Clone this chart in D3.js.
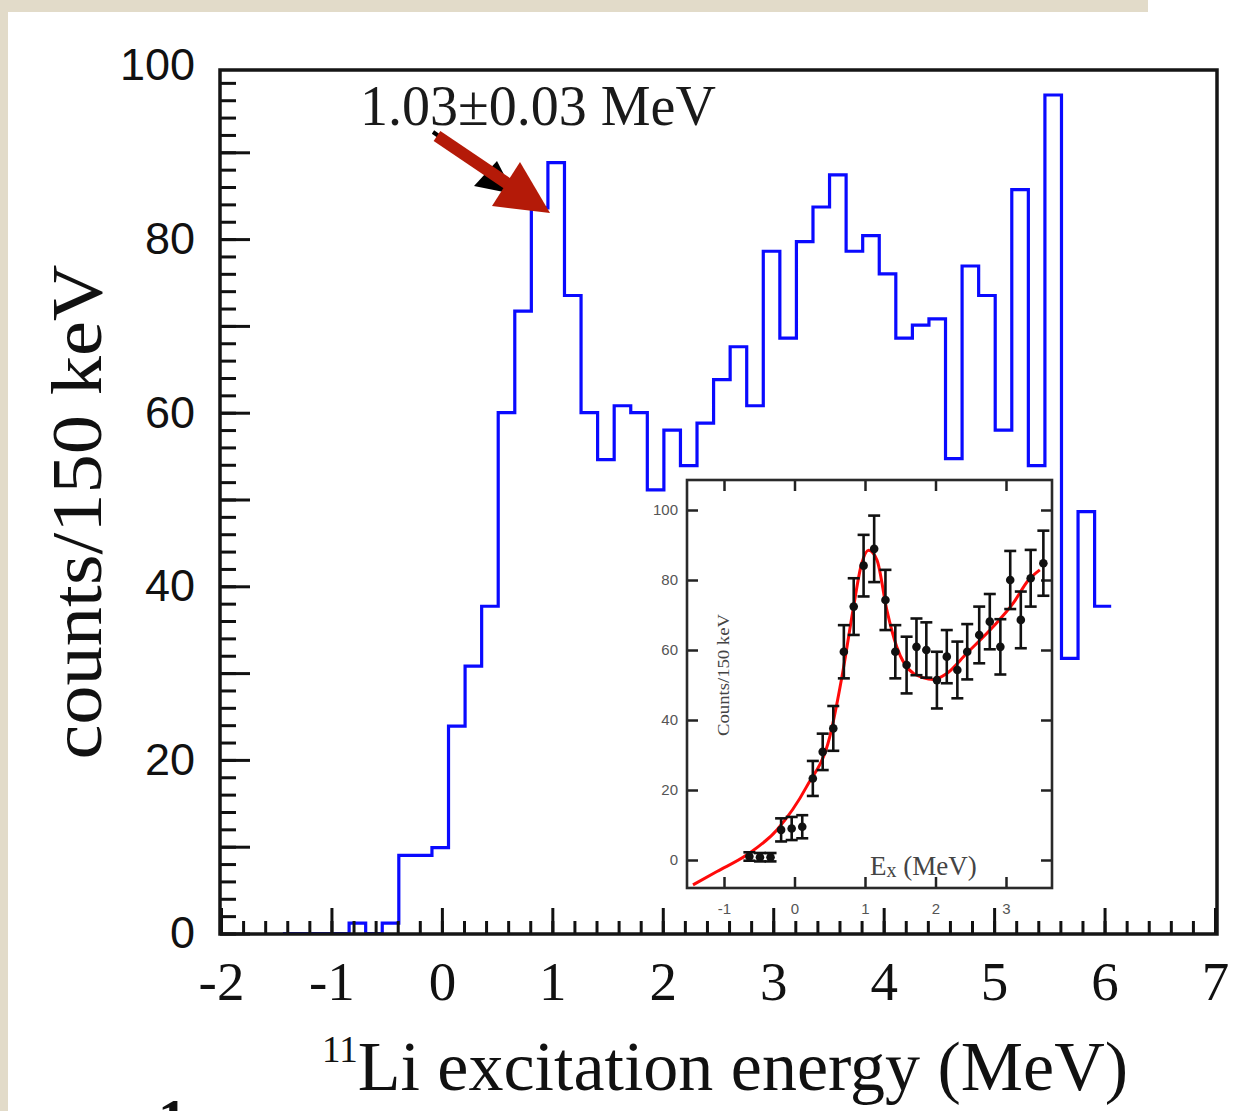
<!DOCTYPE html>
<html>
<head>
<meta charset="utf-8">
<script src="https://cdn.jsdelivr.net/npm/d3@7"></script>
<style>
  html, body { margin: 0; padding: 0; background: #ffffff; }
  svg { display: block; }
</style>
</head>
<body>
<svg id="fig" width="1239" height="1111"></svg>
<script>
// ---- main spectrum: counts per 150 keV bin ----
const binStart = -1.44;      // low edge of the first bin (MeV)
const binWidth = 0.15;       // 150 keV bins
const counts = [
  0, 0, 0, 0, 1.2, 0, 1.2,
  9.0, 9.0, 9.9, 23.9, 30.8, 37.7, 60.0, 71.7, 83.6, 88.8,
  73.5, 60.0, 54.6, 60.8, 60.0, 51.1, 58.0, 53.9, 58.8, 63.8,
  67.6, 60.8, 78.6, 68.6, 79.7, 83.7, 87.4, 78.6, 80.4, 76.0,
  68.6, 70.1, 70.8, 54.7, 76.9, 73.5, 58.0, 85.7, 53.9, 96.6,
  31.7, 48.6, 37.7
];

// main axes
const xMajor = [-2, -1, 0, 1, 2, 3, 4, 5, 6, 7];
const yLabels = [0, 20, 40, 60, 80, 100];
const yMajor = [0, 10, 20, 30, 40, 50, 60, 70, 80, 90];

// ---- inset: fitted spectrum with error bars ----
const insetE   = [-0.64, -0.49, -0.34, -0.19, -0.04, 0.11, 0.26, 0.40, 0.55, 0.70,
                  0.84, 0.98, 1.13, 1.29, 1.43, 1.59, 1.73, 1.87, 2.02, 2.16,
                  2.31, 2.45, 2.62, 2.77, 2.92, 3.06, 3.21, 3.35, 3.53];
const insetVal = [1.0, 0.8, 0.8, 8.6, 9.0, 9.5, 23.3, 30.9, 37.6, 59.5,
                  72.4, 84.1, 88.9, 74.3, 59.5, 55.7, 60.9, 60.0, 51.4, 58.1,
                  54.3, 59.5, 64.3, 68.1, 60.9, 80.0, 68.6, 80.5, 84.8];
const insetErr = [1.2, 1.2, 1.2, 3.3, 3.3, 3.3, 5.0, 5.2, 6.4, 7.6,
                  8.1, 8.8, 9.5, 8.6, 7.6, 8.1, 8.1, 7.9, 8.1, 7.6,
                  8.1, 7.9, 8.1, 7.9, 7.9, 8.3, 8.1, 8.1, 9.3];
const fitE   = [-1.44, -1.10, -0.68, -0.25, 0.17, 0.50, 0.69, 0.83, 0.95, 1.05,
                1.17, 1.31, 1.45, 1.69, 1.97, 2.16, 2.44, 2.82, 3.10, 3.32, 3.48];
const fitVal = [-7.1, -3.3, 1.4, 8.6, 20.9, 35.2, 54.3, 71.4, 84.5, 88.5,
                85.7, 71.4, 60.9, 53.3, 51.6, 53.3, 59.0, 66.7, 73.3, 80.0, 82.9];
const insetXTicks = [-1, 0, 1, 2, 3];
const insetYTicks = [0, 20, 40, 60, 80, 100];

const svg = d3.select("#fig");
const SERIF = "'Liberation Serif', 'Times New Roman', serif";
const SANS = "'Liberation Sans', Arial, sans-serif";
// integer labels with a plain hyphen for negatives
const intLabel = d => (d < 0 ? "-" : "") + Math.abs(d);

// page background: paper strips around the white sheet
svg.append("rect").attr("x", 0).attr("y", 0).attr("width", 1239).attr("height", 1111).attr("fill", "#ffffff");
svg.append("rect").attr("x", 0).attr("y", 0).attr("width", 8).attr("height", 1111).attr("fill", "#e2dbc9");
svg.append("rect").attr("x", 0).attr("y", 0).attr("width", 1148).attr("height", 12).attr("fill", "#e2dbc9");

// ---- main plot ----
const frame = { left: 220, right: 1217, top: 70, bottom: 934 };
const x = d3.scaleLinear().domain([-2, 7]).range([221, 1215]);
const y = d3.scaleLinear().domain([0, 100]).range([933.5, 65.5]);

// histogram outline (step line)
const steps = [];
counts.forEach((c, i) => {
  const lo = binStart + i * binWidth, hi = lo + binWidth;
  steps.push([lo, c], [hi, c]);
});
const stepLine = d3.line().x(d => x(d[0])).y(d => y(d[1]));
svg.append("path")
  .attr("d", stepLine(steps))
  .attr("fill", "none")
  .attr("stroke", "#0a0aff")
  .attr("stroke-width", 3.2)
  .attr("stroke-linejoin", "miter");

// ticks, pointing into the frame
const xMinor = d3.range(-2, 7.0001, 0.2).map(v => +v.toFixed(2));
const yMinor = d3.range(0, 99, 2);
const tickStyle = g => {
  g.select(".domain").remove();
  g.selectAll(".tick line").attr("stroke", "#111").attr("stroke-width", 3);
};
svg.append("g").attr("transform", `translate(0,${frame.bottom})`)
  .call(d3.axisBottom(x).tickValues(xMinor).tickSize(-13).tickFormat(""))
  .call(tickStyle);
svg.append("g").attr("transform", `translate(0,${frame.bottom})`)
  .call(d3.axisBottom(x).tickValues(xMajor).tickSize(-26).tickFormat(""))
  .call(tickStyle);
svg.append("g").attr("transform", `translate(${frame.left},0)`)
  .call(d3.axisLeft(y).tickValues(yMinor).tickSize(-16).tickFormat(""))
  .call(tickStyle);
svg.append("g").attr("transform", `translate(${frame.left},0)`)
  .call(d3.axisLeft(y).tickValues(yMajor).tickSize(-30).tickFormat(""))
  .call(tickStyle);

// tick labels
const xl = svg.append("g").attr("transform", `translate(0,${frame.bottom})`)
  .call(d3.axisBottom(x).tickValues(xMajor).tickSize(0).tickPadding(27).tickFormat(intLabel));
xl.select(".domain").remove();
xl.selectAll("text").attr("font-family", SERIF).attr("font-size", 55).attr("fill", "#111");

const yl = svg.append("g").attr("transform", `translate(${frame.left},0)`)
  .call(d3.axisLeft(y).tickValues(yLabels).tickSize(0).tickPadding(25).tickFormat(intLabel));
yl.select(".domain").remove();
yl.selectAll("text").attr("font-family", SANS).attr("font-size", 45).attr("fill", "#111");

// frame
svg.append("rect")
  .attr("x", frame.left).attr("y", frame.top)
  .attr("width", frame.right - frame.left).attr("height", frame.bottom - frame.top)
  .attr("fill", "none").attr("stroke", "#151515").attr("stroke-width", 3.5);

// axis titles
svg.append("text")
  .attr("transform", "translate(101,512) rotate(-90)")
  .attr("text-anchor", "middle")
  .attr("font-family", SERIF).attr("font-size", 72).attr("fill", "#111")
  .attr("textLength", 495).attr("lengthAdjust", "spacingAndGlyphs")
  .text("counts/150 keV");

const xt = svg.append("text")
  .attr("x", 322).attr("y", 1090)
  .attr("font-family", SERIF).attr("font-size", 70).attr("fill", "#111");
xt.append("tspan").attr("font-size", 37).attr("dy", -28).text("11");
xt.append("tspan").attr("dy", 28).text("Li excitation energy (MeV)");

// resonance annotation
svg.append("text")
  .attr("x", 360).attr("y", 125)
  .attr("font-family", SERIF).attr("font-size", 56).attr("fill", "#1a1a1a")
  .text("1.03\u00b10.03 MeV");

// black pointer, mostly hidden under the red one
svg.append("line").attr("x1", 433).attr("y1", 132).attr("x2", 490).attr("y2", 172)
  .attr("stroke", "#000").attr("stroke-width", 4);
svg.append("polygon").attr("points", "474,186 497,161 514,194").attr("fill", "#000");

// red pointer to the 1 MeV peak
svg.append("line").attr("x1", 437).attr("y1", 136).attr("x2", 508).attr("y2", 184)
  .attr("stroke", "#b41a08").attr("stroke-width", 12);
svg.append("polygon").attr("points", "520,162 550,213 492,206").attr("fill", "#b41a08");

// ---- inset ----
const ins = { left: 687, right: 1052, top: 480, bottom: 888 };
const xi = d3.scaleLinear().domain([0, 1]).range([794.5, 865]);
const yi = d3.scaleLinear().domain([0, 100]).range([860, 510]);

svg.append("rect")
  .attr("x", ins.left).attr("y", ins.top)
  .attr("width", ins.right - ins.left).attr("height", ins.bottom - ins.top)
  .attr("fill", "#ffffff");

const insetTicks = g => {
  g.select(".domain").remove();
  g.selectAll(".tick line").attr("stroke", "#222").attr("stroke-width", 2.5);
};
svg.append("g").attr("transform", `translate(0,${ins.bottom})`)
  .call(d3.axisBottom(xi).tickValues(insetXTicks).tickSize(-11).tickFormat("")).call(insetTicks);
svg.append("g").attr("transform", `translate(0,${ins.top})`)
  .call(d3.axisTop(xi).tickValues(insetXTicks).tickSize(-11).tickFormat("")).call(insetTicks);
svg.append("g").attr("transform", `translate(${ins.left},0)`)
  .call(d3.axisLeft(yi).tickValues(insetYTicks).tickSize(-11).tickFormat("")).call(insetTicks);
svg.append("g").attr("transform", `translate(${ins.right},0)`)
  .call(d3.axisRight(yi).tickValues(insetYTicks).tickSize(-11).tickFormat("")).call(insetTicks);

const ixl = svg.append("g").attr("transform", `translate(0,${ins.bottom})`)
  .call(d3.axisBottom(xi).tickValues(insetXTicks).tickSize(0).tickPadding(15).tickFormat(intLabel));
ixl.select(".domain").remove();
ixl.selectAll("text").attr("font-family", SANS).attr("font-size", 15).attr("fill", "#555");

const iyl = svg.append("g").attr("transform", `translate(${ins.left},0)`)
  .call(d3.axisLeft(yi).tickValues(insetYTicks).tickSize(0).tickPadding(9).tickFormat(intLabel));
iyl.select(".domain").remove();
iyl.selectAll("text").attr("font-family", SANS).attr("font-size", 15).attr("fill", "#555");

// fit curve
const fitLine = d3.line().x(d => xi(d)).y((d, i) => yi(fitVal[i])).curve(d3.curveMonotoneX);
svg.append("path")
  .attr("d", fitLine(fitE))
  .attr("fill", "none").attr("stroke", "#ff0a0a").attr("stroke-width", 3);

// data points with error bars
const pts = svg.append("g");
insetE.forEach((e, i) => {
  const cx = xi(e), v = insetVal[i], err = insetErr[i];
  const y0 = yi(v - err), y1 = yi(v + err);
  pts.append("line").attr("x1", cx).attr("x2", cx).attr("y1", y0).attr("y2", y1)
    .attr("stroke", "#111").attr("stroke-width", 2.6);
  [y0, y1].forEach(yy => pts.append("line")
    .attr("x1", cx - 6).attr("x2", cx + 6).attr("y1", yy).attr("y2", yy)
    .attr("stroke", "#111").attr("stroke-width", 2.6));
  pts.append("circle").attr("cx", cx).attr("cy", yi(v)).attr("r", 4.3).attr("fill", "#111");
});

// inset frame and labels
svg.append("rect")
  .attr("x", ins.left).attr("y", ins.top)
  .attr("width", ins.right - ins.left).attr("height", ins.bottom - ins.top)
  .attr("fill", "none").attr("stroke", "#2a2a2a").attr("stroke-width", 2.6);

svg.append("text")
  .attr("transform", "translate(729,675) rotate(-90)")
  .attr("text-anchor", "middle")
  .attr("font-family", SERIF).attr("font-size", 17).attr("fill", "#444")
  .attr("textLength", 122).attr("lengthAdjust", "spacingAndGlyphs")
  .text("Counts/150 keV");

const ex = svg.append("text")
  .attr("x", 870).attr("y", 875)
  .attr("font-family", SERIF).attr("font-size", 27).attr("fill", "#444");
ex.append("tspan").text("E");
ex.append("tspan").attr("font-size", 20).attr("dy", 2).text("x");
ex.append("tspan").attr("dy", -2).text(" (MeV)");

// figure number peeking in at the page bottom
svg.append("text")
  .attr("x", 158).attr("y", 1139)
  .attr("font-family", SERIF).attr("font-size", 58).attr("font-weight", "bold").attr("fill", "#111")
  .text("1");
</script>
</body>
</html>
